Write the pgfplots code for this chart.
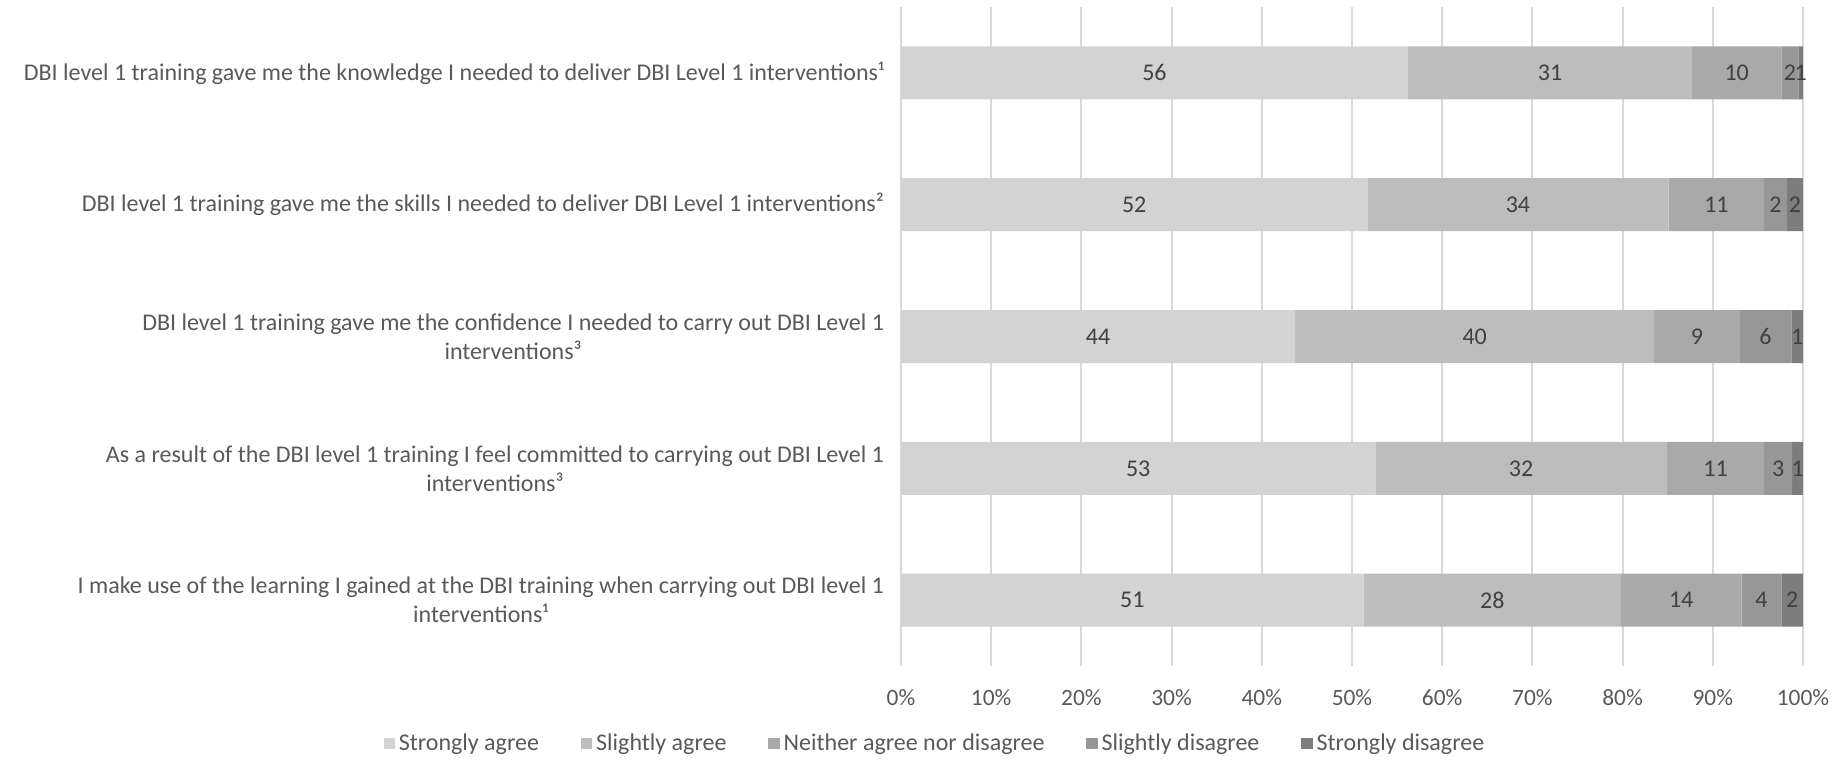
\documentclass[border=0pt]{standalone}
\usepackage{pgfplots}
\pgfplotsset{compat=1.18}
\usepackage{pgfplotstable}
\usepackage{fontspec}
\setmainfont{Carlito}
\definecolor{cSA}{HTML}{D3D3D3}
\definecolor{cSL}{HTML}{BDBDBD}
\definecolor{cNE}{HTML}{A9A9A9}
\definecolor{cSD}{HTML}{979797}
\definecolor{cSDD}{HTML}{7D7D7D}
\definecolor{txt}{HTML}{595959}
\definecolor{dlab}{HTML}{404040}
\definecolor{gridc}{HTML}{D9D9D9}
\pgfplotstableread{
y sa sl ne sd sdd lsa lsl lne lsd lsdd
0 56.2 31.5 9.9 1.9 0.5 56 31 10 2 1
1 51.7 33.4 10.6 2.5 1.8 52 34 11 2 2
2 43.7 39.8 9.5 5.7 1.3 44 40 9 6 1
3 52.6 32.3 10.8 3.1 1.2 53 32 11 3 1
4 51.3 28.5 13.4 4.4 2.4 51 28 14 4 2
}\datatab
\pgfplotsset{common/.style={
  scale only axis,
  width=451pt, height=329.5pt,
  xmin=0, xmax=100,
  ymin=-0.5, ymax=4.5,
  y dir=reverse,
}}
\begin{document}
\begin{tikzpicture}
\path[use as bounding box] (-450.5pt,-50.5pt) rectangle (471pt,333pt);
\begin{axis}[
  common,
  xbar stacked,
  bar width=26.5pt,
  xtick={0,10,...,100},
  xticklabel={\pgfmathprintnumber{\tick}\%},
  /pgf/number format/assume math mode=true,
  ytick={0,1,2,3,4},
  yticklabels={
    {DBI level 1 training gave me the knowledge I needed to deliver DBI Level 1 interventions¹},
    {DBI level 1 training gave me the skills I needed to deliver DBI Level 1 interventions²},
    {DBI level 1 training gave me the confidence I needed to carry out DBI Level 1\\interventions³},
    {As a result of the DBI level 1 training I feel committed to carrying out DBI Level 1\\interventions³},
    {I make use of the learning I gained at the DBI training when carrying out DBI level 1\\interventions¹}
  },
  yticklabel style={align=center, text=txt, font=\fontsize{12}{14.5}\selectfont, xshift=-5pt},
  xticklabel style={text=txt, font=\fontsize{11.7}{13}\selectfont, yshift=-8pt},
  major tick length=0pt,
  axis line style={draw=none},
  xmajorgrids,
  grid style={gridc, line width=1pt},
  legend columns=5,
  legend style={at={(0.0388,-0.118)}, anchor=center, draw=none, fill=none,
    font=\fontsize{12}{14}\selectfont, text=txt,
    /tikz/every even column/.append style={column sep=19pt}},
  legend cell align=left,
  legend image code/.code={\fill[#1] (0pt,-2.8pt) rectangle (5.6pt,2.8pt);},
]
\addplot[fill=cSA, draw=none] table[x=sa, y=y] {\datatab};
\addplot[fill=cSL, draw=none] table[x=sl, y=y] {\datatab};
\addplot[fill=cNE, draw=none] table[x=ne, y=y] {\datatab};
\addplot[fill=cSD, draw=none] table[x=sd, y=y] {\datatab};
\addplot[fill=cSDD, draw=none] table[x=sdd, y=y] {\datatab};
\legend{Strongly agree, Slightly agree, Neither agree nor disagree, Slightly disagree, Strongly disagree}
\end{axis}
\begin{axis}[
  common,
  hide axis,
  point meta=explicit symbolic,
  nodes near coords={\pgfplotspointmeta},
  nodes near coords style={anchor=center, text=dlab, font=\fontsize{12}{13}\selectfont},
]
\addplot[draw=none, mark=none] table[x expr=\thisrow{sa}/2, y=y, meta=lsa] {\datatab};
\addplot[draw=none, mark=none] table[x expr=\thisrow{sa}+\thisrow{sl}/2, y=y, meta=lsl] {\datatab};
\addplot[draw=none, mark=none] table[x expr=\thisrow{sa}+\thisrow{sl}+\thisrow{ne}/2, y=y, meta=lne] {\datatab};
\addplot[draw=none, mark=none] table[x expr=\thisrow{sa}+\thisrow{sl}+\thisrow{ne}+\thisrow{sd}/2, y=y, meta=lsd] {\datatab};
\addplot[draw=none, mark=none] table[x expr=\thisrow{sa}+\thisrow{sl}+\thisrow{ne}+\thisrow{sd}+\thisrow{sdd}/2, y=y, meta=lsdd] {\datatab};
\end{axis}
\end{tikzpicture}
\end{document}
